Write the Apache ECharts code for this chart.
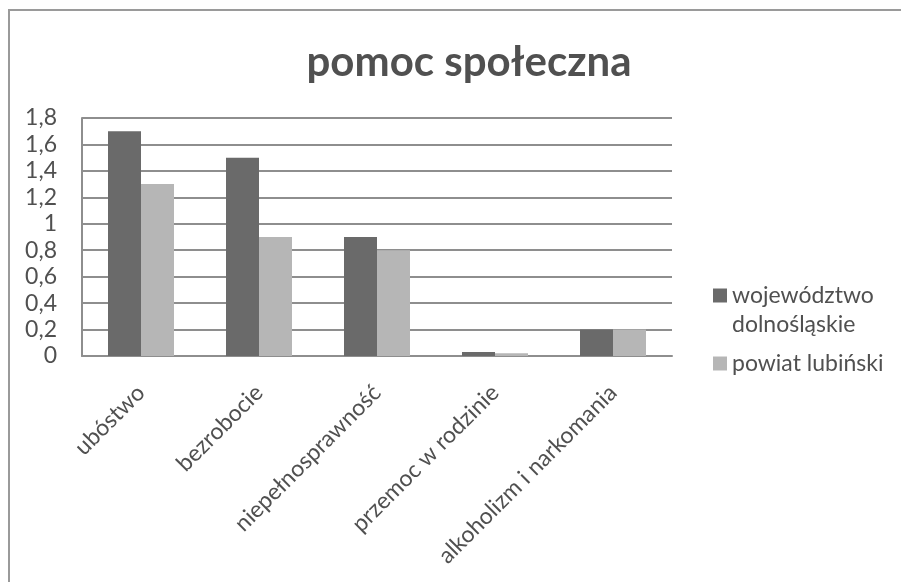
<!DOCTYPE html>
<html>
<head>
<meta charset="utf-8">
<script src="https://cdn.jsdelivr.net/npm/echarts@6/dist/echarts.min.js"></script>
<style>
html, body { margin: 0; padding: 0; background: #fff; }
#chart { width: 901px; height: 582px; }
</style>
</head>
<body>
<div id="chart"></div>
<script>
var categories = ['ubóstwo', 'bezrobocie', 'niepełnosprawność', 'przemoc w rodzinie', 'alkoholizm i narkomania'];
var wojewodztwo = [1.7, 1.5, 0.9, 0.03, 0.2];
var powiat = [1.3, 0.9, 0.8, 0.02, 0.2];
var seriesNames = ['województwo\ndolnośląskie', 'powiat lubiński'];

var chart = echarts.init(document.getElementById('chart'));
var font = 'Lato';
var gridColor = '#8e8e8e';
var textColor = '#505050';

var option = {
	backgroundColor: '#fff',
	animation: false,
	title: {
		text: 'pomoc społeczna',
		left: 464,
		top: 36,
		textAlign: 'center',
		textStyle: { fontFamily: font, fontSize: 42, fontWeight: 'bold', color: textColor }
	},
	legend: {
		orient: 'vertical',
		left: 713,
		top: 252,
		padding: 0,
		itemWidth: 14,
		itemHeight: 14,
		itemGap: 10,
		icon: 'rect',
		data: seriesNames,
		// pusta linia na górze, żeby kwadrat stał przy pierwszej linii tekstu
		formatter: function (name) {
			return name === seriesNames[0] ? ' \n' + name : name;
		},
		textStyle: { fontFamily: font, fontSize: 23, color: textColor, lineHeight: 29 }
	},
	grid: { left: 82, right: 229, top: 118, bottom: 226 },
	xAxis: {
		type: 'category',
		data: categories,
		axisTick: { show: false },
		axisLine: { lineStyle: { color: gridColor, width: 2 } },
		axisLabel: { rotate: 45, fontFamily: font, fontSize: 23, color: textColor, margin: 33, interval: 0 }
	},
	yAxis: {
		type: 'value',
		min: 0,
		max: 1.8,
		interval: 0.2,
		axisTick: { show: false },
		axisLine: { show: true, lineStyle: { color: gridColor, width: 2 } },
		splitLine: { lineStyle: { color: gridColor, width: 2 } },
		axisLabel: {
			fontFamily: font, fontSize: 23, color: textColor, margin: 25,
			formatter: function (v) { return String(Number(v.toFixed(1))).replace('.', ','); }
		}
	},
	graphic: [{
		type: 'rect',
		shape: { x: 9, y: 10, width: 1000, height: 700 },
		style: { fill: 'none', stroke: '#9a9a9a', lineWidth: 2 }
	}],
	series: [{
		name: seriesNames[0],
		type: 'bar',
		data: wojewodztwo,
		barWidth: 33,
		barGap: '0%',
		itemStyle: { color: '#6a6a6a' }
	}, {
		name: seriesNames[1],
		type: 'bar',
		data: powiat,
		barWidth: 33,
		barGap: '0%',
		itemStyle: { color: '#b6b6b6' }
	}]
};
chart.setOption(option);
</script>
</body>
</html>
